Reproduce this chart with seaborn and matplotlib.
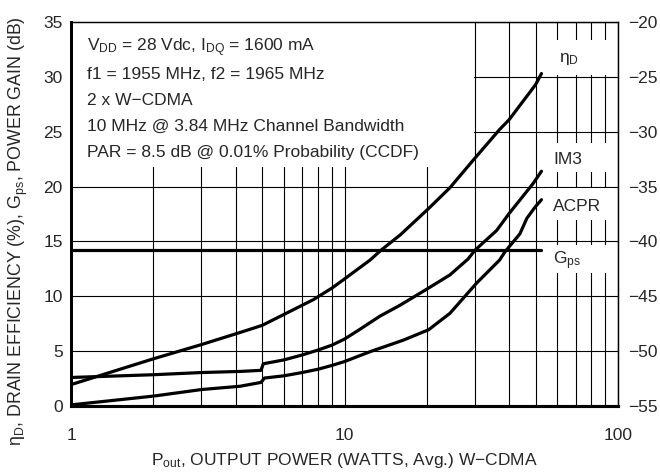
import matplotlib
matplotlib.use("Agg")
import matplotlib.pyplot as plt
import matplotlib.patches as mpatches
from matplotlib.ticker import LogLocator, FixedLocator, NullFormatter, FixedFormatter
import seaborn as sns
import pandas as pd

# ---- data ----
p_eta = [1, 2, 3, 4.15, 5, 6.9, 7.7, 9, 9.9, 12.4, 13.6, 16, 20.3, 24.3, 30, 36.9, 40, 50, 52.5]
eta_d = [1.95, 4.3, 5.6, 6.7, 7.35, 9.1, 9.7, 10.75, 11.5, 13.3, 14.2, 15.6, 18.0, 19.9, 22.6, 25.2, 26.1, 29.3, 30.3]

p_gps = [1, 52.5]
gps = [14.2, 14.2]

p_im3 = [1, 2, 3, 4.15, 4.95, 5.05, 6, 7, 8, 9, 10, 11.4, 12.4, 13.5, 16, 20.3, 24.3, 28.3, 30, 36, 40, 49, 52.5]
im3 = [-52.4, -52.15, -51.95, -51.85, -51.75, -51.15, -50.8, -50.35, -49.9, -49.45, -48.9, -48.0,
       -47.4, -46.8, -45.8, -44.25, -43.05, -41.6, -40.8, -39.0, -37.45, -34.7, -33.6]

p_acpr = [1, 2, 3, 4.15, 4.95, 5.1, 6, 7, 8, 9, 10, 12.4, 16.4, 20.3, 24.3, 30.4, 36.9, 38.6, 43.8, 46.4, 50, 52.5]
acpr = [-54.9, -54.1, -53.5, -53.2, -52.85, -52.45, -52.25, -51.95, -51.65, -51.3, -50.95, -50.05,
        -49.0, -48.05, -46.55, -43.8, -41.7, -40.95, -39.3, -37.9, -36.8, -36.2]

left_ticks = [0, 5, 10, 15, 20, 25, 30, 35]
right_ticks = [-55, -50, -45, -40, -35, -30, -25, -20]
x_ticks = [1, 10, 100]
x_ticklabels = ["1", "10", "100"]

info_lines = [
    r"V$_{\mathregular{DD}}$ = 28 Vdc, I$_{\mathregular{DQ}}$ = 1600 mA",
    "f1 = 1955 MHz, f2 = 1965 MHz",
    "2 x W\u2212CDMA",
    "10 MHz @ 3.84 MHz Channel Bandwidth",
    "PAR = 8.5 dB @ 0.01% Probability (CCDF)",
]

# ---- style ----
sns.set_style("white")
plt.rcParams["font.family"] = ["Liberation Sans", "DejaVu Sans"]
plt.rcParams["mathtext.fontset"] = "custom"
plt.rcParams["mathtext.rm"] = "Liberation Sans"
plt.rcParams["mathtext.it"] = "Liberation Sans"
plt.rcParams["axes.unicode_minus"] = True
FS = 12.5

fig = plt.figure(figsize=(6.6, 4.73), dpi=100)
ax = fig.add_axes([71 / 660, 1 - 406 / 473, 547 / 660, 384 / 473])
ax2 = ax.twinx()

df_eta = pd.DataFrame({"P": p_eta, "v": eta_d})
df_gps = pd.DataFrame({"P": p_gps, "v": gps})
df_im3 = pd.DataFrame({"P": p_im3, "v": im3})
df_acpr = pd.DataFrame({"P": p_acpr, "v": acpr})

LW = 2.3
kw = dict(color="black", lw=LW, sort=False, estimator=None, zorder=3)
sns.lineplot(data=df_eta, x="P", y="v", ax=ax, **kw)
sns.lineplot(data=df_gps, x="P", y="v", ax=ax, **kw)
sns.lineplot(data=df_im3, x="P", y="v", ax=ax2, **kw)
sns.lineplot(data=df_acpr, x="P", y="v", ax=ax2, **kw)

for a in (ax, ax2):
    a.set_xscale("log")
    a.set_xlim(1, 100)
ax.set_ylim(0, 35)
ax2.set_ylim(-55, -20)

ax.xaxis.set_major_locator(FixedLocator(x_ticks))
ax.xaxis.set_major_formatter(FixedFormatter(x_ticklabels))
ax.xaxis.set_minor_locator(LogLocator(base=10, subs=range(2, 10)))
ax.xaxis.set_minor_formatter(NullFormatter())
ax.set_yticks(left_ticks)
ax2.set_yticks(right_ticks)

ax.grid(True, which="both", axis="x", color="black", lw=0.8)
ax.grid(True, which="major", axis="y", color="black", lw=0.8)
ax.set_axisbelow(True)

ax.tick_params(axis="both", which="both", direction="in", length=0, labelsize=FS, pad=6)
ax.tick_params(axis="x", pad=16)
ax2.tick_params(axis="y", direction="in", length=0, labelsize=FS, pad=7)

for a in (ax, ax2):
    a.spines["left"].set_linewidth(2.0)
    a.spines["bottom"].set_linewidth(2.2)
    a.spines["top"].set_linewidth(0.9)
    a.spines["right"].set_linewidth(0.9)
    for s in a.spines.values():
        s.set_color("black")
ax.set_xlabel("")
ax.set_ylabel("")
ax2.set_xlabel("")
ax2.set_ylabel("")

# white panel behind the condition text (hides gridlines)
ax.add_patch(mpatches.Rectangle((0, 1 - 145 / 384), 403 / 547, 145 / 384,
                                transform=ax.transAxes, facecolor="white",
                                edgecolor="none", zorder=1))
base_px = [51, 78.5, 104.5, 130.7, 156.7]
for txt, ypx in zip(info_lines, base_px):
    ax.text(16 / 547, (406 - ypx) / 384, txt, transform=ax.transAxes, fontsize=FS,
            va="baseline", ha="left", zorder=4)

# curve labels with white backgrounds that interrupt the grid
label_gaps = [(40, 75), (143, 172), (188, 220), (245, 273)]
for top, bot in label_gaps:
    ax.add_patch(mpatches.Rectangle(((546 - 71) / 547, (406 - bot) / 384), 67 / 547, (bot - top) / 384,
                                    transform=ax.transAxes, facecolor="white",
                                    edgecolor="none", zorder=1))
ax.text(61, 31.6, "\u03b7$_{\\mathregular{D}}$", fontsize=FS, va="center", ha="left", zorder=4)
ax.text(57.9, 22.5, "IM3", fontsize=FS, va="center", ha="left", zorder=4)
ax.text(57.9, 18.15, "ACPR", fontsize=FS, va="center", ha="left", zorder=4)
ax.text(57.9, 13.2, "G$_{\\mathregular{ps}}$", fontsize=FS, va="center", ha="left", zorder=4)

fig.text(344 / 660, 1 - 460 / 473, "P$_{\\mathregular{out}}$, OUTPUT POWER (WATTS, Avg.) W\u2212CDMA",
         fontsize=FS, ha="center", va="center")
fig.text(18 / 660, 1 - 231 / 473,
         "\u03b7$_{\\mathregular{D}}$, DRAIN EFFICIENCY (%), G$_{\\mathregular{ps}}$, POWER GAIN (dB)",
         fontsize=12.8, ha="center", va="center", rotation=90)

fig.savefig("out.png", dpi=100, facecolor="white")
